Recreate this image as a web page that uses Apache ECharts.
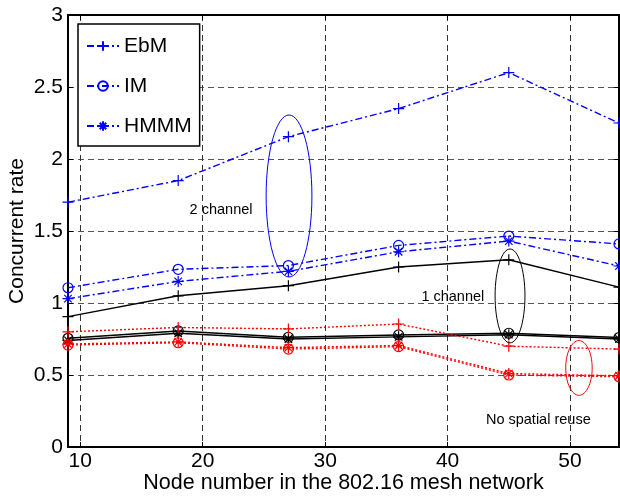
<!DOCTYPE html>
<html>
<head>
<meta charset="utf-8">
<script src="https://cdn.jsdelivr.net/npm/echarts@6/dist/echarts.min.js"></script>
<style>
    html, body { margin: 0; padding: 0; background: #fff; }
    #main { width: 620px; height: 497px; }
</style>
</head>
<body>
<div id="main"></div>
<script>
// node numbers
var xValues = [9, 18, 27, 36, 45, 54];
var xTicks = [10, 20, 30, 40, 50];

// 2 channel
var ebm2 = [1.70, 1.85, 2.155, 2.35, 2.60, 2.25];
var im2 = [1.106, 1.234, 1.26, 1.40, 1.465, 1.41];
var hmmm2 = [1.03, 1.15, 1.22, 1.356, 1.43, 1.257];
// 1 channel
var ebm1 = [0.905, 1.05, 1.12, 1.25, 1.30, 1.11];
var im1 = [0.755, 0.806, 0.762, 0.778, 0.79, 0.76];
var hmmm1 = [0.74, 0.79, 0.75, 0.765, 0.78, 0.75];
// no spatial reuse
var ebm0 = [0.80, 0.83, 0.82, 0.854, 0.70, 0.68];
var im0 = [0.708, 0.724, 0.68, 0.697, 0.50, 0.488];
var hmmm0 = [0.715, 0.73, 0.69, 0.705, 0.51, 0.495];

// annotations (data units)
var ringX = [27.05, 45.1, 50.73];
var ringY = [1.743, 1.049, 0.549];
var ringRx = [1.87, 1.22, 1.08];
var ringRy = [0.5625, 0.326, 0.19];
var noteText = ['2 channel', '1 channel', 'No spatial reuse'];
var noteX = [21.5, 40.43, 47.41];
var noteY = [1.646, 1.044, 0.1875];

var FONT = '"Liberation Sans", Arial, Helvetica, sans-serif';
var plusPath = 'path://M5,0L5,10M0,5L10,5';
var starPath = 'path://M5,0L5,10M0,5L10,5M1.6,1.6L8.4,8.4M8.4,1.6L1.6,8.4';

function pts(arr) {
    return xValues.map(function (x, i) { return [x, arr[i]]; });
}

function makeLine(name, arr, color, dash, symbol) {
    return {
        name: name,
        type: 'line',
        data: pts(arr),
        symbol: symbol,
        symbolSize: symbol === 'circle' ? 10 : 11,
        symbolKeepAspect: true,
        showAllSymbol: true,
        clip: false,
        lineStyle: { color: color, width: 1.4, type: dash },
        itemStyle: { color: 'none', borderColor: color, borderWidth: 1.2 },
        emphasis: { disabled: true },
        z: 3
    };
}

var blueDash = [7, 3, 2, 3];
var redDot = [2, 2];

var chart = echarts.init(document.getElementById('main'));

var option = {
    animation: false,
    backgroundColor: '#fff',
    textStyle: { fontFamily: FONT },
    grid: { left: 68, top: 15, right: 1, bottom: 50, containLabel: false, outerBoundsMode: 'none' },
    legend: {
        data: ['EbM', 'IM', 'HMMM'],
        orient: 'vertical',
        left: 78,
        top: 24,
        padding: [11, 8, 9, 8],
        itemWidth: 32,
        itemHeight: 12,
        itemGap: 18,
        backgroundColor: '#fff',
        borderColor: '#000',
        borderWidth: 1.5,
        textStyle: { fontSize: 21, color: '#000', fontFamily: FONT, lineHeight: 22 },
        z: 10
    },
    xAxis: [{
        type: 'value',
        min: 9,
        max: 54,
        name: 'Node number in the 802.16 mesh network',
        nameLocation: 'middle',
        nameGap: 25,
        nameMoveOverlap: false,
        nameTextStyle: { fontSize: 21.5, color: '#000', fontFamily: FONT },
        axisLine: { show: true, onZero: false, lineStyle: { color: '#000', width: 2 } },
        axisTick: { show: true, inside: true, length: 5, customValues: xTicks, lineStyle: { color: '#000' } },
        axisLabel: { customValues: xTicks, fontSize: 21, color: '#000', margin: 4, fontFamily: FONT },
        splitLine: { show: true, lineStyle: { color: '#333', type: [6, 4], width: 1 } }
    }, {
        type: 'value',
        position: 'top',
        min: 9,
        max: 54,
        axisLine: { show: true, onZero: false, lineStyle: { color: '#000', width: 2 } },
        axisTick: { show: true, inside: true, length: 5, customValues: xTicks, lineStyle: { color: '#000' } },
        axisLabel: { show: false },
        splitLine: { show: false }
    }],
    yAxis: [{
        type: 'value',
        min: 0,
        max: 3,
        interval: 0.5,
        name: 'Concurrent rate',
        nameLocation: 'middle',
        nameRotate: 90,
        nameGap: 40,
        nameMoveOverlap: false,
        nameTextStyle: { fontSize: 21, color: '#000', fontFamily: FONT },
        axisLine: { show: true, onZero: false, lineStyle: { color: '#000', width: 2 } },
        axisTick: { show: true, inside: true, length: 5, lineStyle: { color: '#000' } },
        axisLabel: { fontSize: 21, color: '#000', margin: 5, fontFamily: FONT },
        splitLine: { show: true, lineStyle: { color: '#555', type: [6, 4], width: 1.2 } }
    }, {
        type: 'value',
        position: 'right',
        min: 0,
        max: 3,
        interval: 0.5,
        axisLine: { show: true, onZero: false, lineStyle: { color: '#000', width: 2 } },
        axisTick: { show: true, inside: true, length: 5, lineStyle: { color: '#000' } },
        axisLabel: { show: false },
        splitLine: { show: false }
    }],
    series: [
        makeLine('EbM', ebm2, '#0000ff', blueDash, plusPath),
        makeLine('IM', im2, '#0000ff', blueDash, 'circle'),
        makeLine('HMMM', hmmm2, '#0000ff', blueDash, starPath),
        makeLine('EbM 1ch', ebm1, '#000000', 'solid', plusPath),
        makeLine('IM 1ch', im1, '#000000', 'solid', 'circle'),
        makeLine('HMMM 1ch', hmmm1, '#000000', 'solid', starPath),
        makeLine('EbM nsr', ebm0, '#ff0000', redDot, plusPath),
        makeLine('IM nsr', im0, '#ff0000', redDot, 'circle'),
        makeLine('HMMM nsr', hmmm0, '#ff0000', redDot, starPath),
        {
            name: 'rings',
            type: 'custom',
            data: ringX.map(function (x, i) { return [x, ringY[i], ringRx[i], ringRy[i]]; }),
            renderItem: function (params, api) {
                var c = api.coord([api.value(0), api.value(1)]);
                var s = api.size([api.value(2), api.value(3)]);
                var colors = ['#0000ff', '#000000', '#ff0000'];
                return {
                    type: 'ellipse',
                    shape: { cx: c[0], cy: c[1], rx: s[0], ry: s[1] },
                    style: { fill: 'none', stroke: colors[params.dataIndex], lineWidth: 1 }
                };
            },
            silent: true,
            z: 4
        },
        {
            name: 'notes',
            type: 'custom',
            data: noteX.map(function (x, i) { return [x, noteY[i], i]; }),
            renderItem: function (params, api) {
                var c = api.coord([api.value(0), api.value(1)]);
                return {
                    type: 'text',
                    x: c[0],
                    y: c[1],
                    style: {
                        text: noteText[params.dataIndex],
                        font: '14.5px ' + FONT,
                        fill: '#000',
                        align: 'center',
                        verticalAlign: 'middle'
                    }
                };
            },
            silent: true,
            z: 4
        }
    ]
};

chart.setOption(option);
</script>
</body>
</html>
